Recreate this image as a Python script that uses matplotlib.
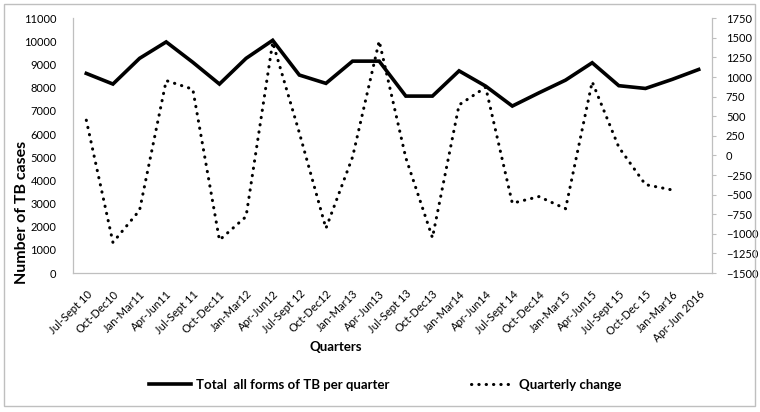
import matplotlib
matplotlib.use("Agg")
import matplotlib.pyplot as plt
from matplotlib.patches import Rectangle

plt.rcParams['font.family'] = ['Lato', 'DejaVu Sans']

quarters = ["Jul-Sept 10", "Oct-Dec10", "Jan-Mar11", "Apr-Jun11", "Jul-Sept 11",
            "Oct-Dec11", "Jan-Mar12", "Apr-Jun12", "Jul-Sept 12", "Oct-Dec12",
            "Jan-Mar13", "Apr-Jun13", "Jul-Sept 13", "Oct-Dec13", "Jan-Mar14",
            "Apr-Jun14", "Jul-Sept 14", "Oct-Dec14", "Jan-Mar15", "Apr-Jun15",
            "Jul-Sept 15", "Oct-Dec 15", "Jan-Mar16", "Apr-Jun 2016"]

# total TB cases per quarter (left axis)
total_cases = [8620, 8160, 9270, 9980, 9100, 8160, 9270, 10050, 8550, 8190,
               9150, 9150, 7640, 7640, 8730, 8070, 7210, 7780, 8330, 9080,
               8090, 7970, 8360, 8790]

# quarterly change (right axis), no value for the last quarter
change = [450, -1110, -700, 955, 845, -1080, -780, 1445, 290, -930,
          -20, 1460, -30, -1050, 645, 870, -610, -525, -680, 940,
          105, -372, -440]

grey = '#BFBFBF'

fig = plt.figure(figsize=(7.6, 4.12), dpi=100)
ax = fig.add_axes([73/760, 1-273/412, (712-73)/760, (273-18.3)/412])
ax2 = ax.twinx()

x = list(range(len(quarters)))
l1, = ax.plot(x, total_cases, color='black', lw=2.6, solid_joinstyle='miter',
              label='Total  all forms of TB per quarter')
l2, = ax2.plot(x[:len(change)], change, color='black', lw=2.2,
               dashes=(0.1, 2.3), dash_capstyle='round',
               label='Quarterly change')

ax.set_xlim(-0.5, len(quarters) - 0.5)
ax.set_ylim(0, 11000)
ax.set_yticks(range(0, 11001, 1000))
ax2.set_ylim(-1500, 1750)
ax2.set_yticks(range(-1500, 1751, 250))

for a in (ax, ax2):
    for s in a.spines.values():
        s.set_visible(False)
ax.spines['left'].set_visible(True)
ax.spines['bottom'].set_visible(True)
ax2.spines['right'].set_visible(True)
for s in (ax.spines['left'], ax.spines['bottom'], ax2.spines['right']):
    s.set_color(grey)
    s.set_linewidth(0.9)

ax.tick_params(axis='y', length=0, pad=12, labelsize=8)
ax.tick_params(axis='x', length=0, pad=11, labelsize=8)
ax2.tick_params(axis='y', length=3, width=0.8, color=grey, pad=7, labelsize=8)

ax.set_xticks(x)
ax.set_xticklabels(quarters, rotation=45, ha='right', va='top',
                   rotation_mode='anchor')

fig.text(22/760, 1-212/412, 'Number of TB cases', rotation=90, ha='center',
         va='center', fontsize=11.5, fontweight='bold')
fig.text(336/760, 1-347/412, 'Quarters', ha='center', va='center',
         fontsize=9.5, fontweight='bold')

fig.legend(handles=[l1, l2], loc='center', bbox_to_anchor=(385/760, 1-385/412),
           ncol=2, frameon=False, handlelength=3.2, handletextpad=0.4,
           columnspacing=6.2, prop={'weight': 'bold', 'size': 9.5})

fig.patches.append(Rectangle((4/760, 6/412), 751/760, 402/412, transform=fig.transFigure,
                             fill=False, edgecolor=grey, lw=1))

fig.savefig('out.png', dpi=100)
